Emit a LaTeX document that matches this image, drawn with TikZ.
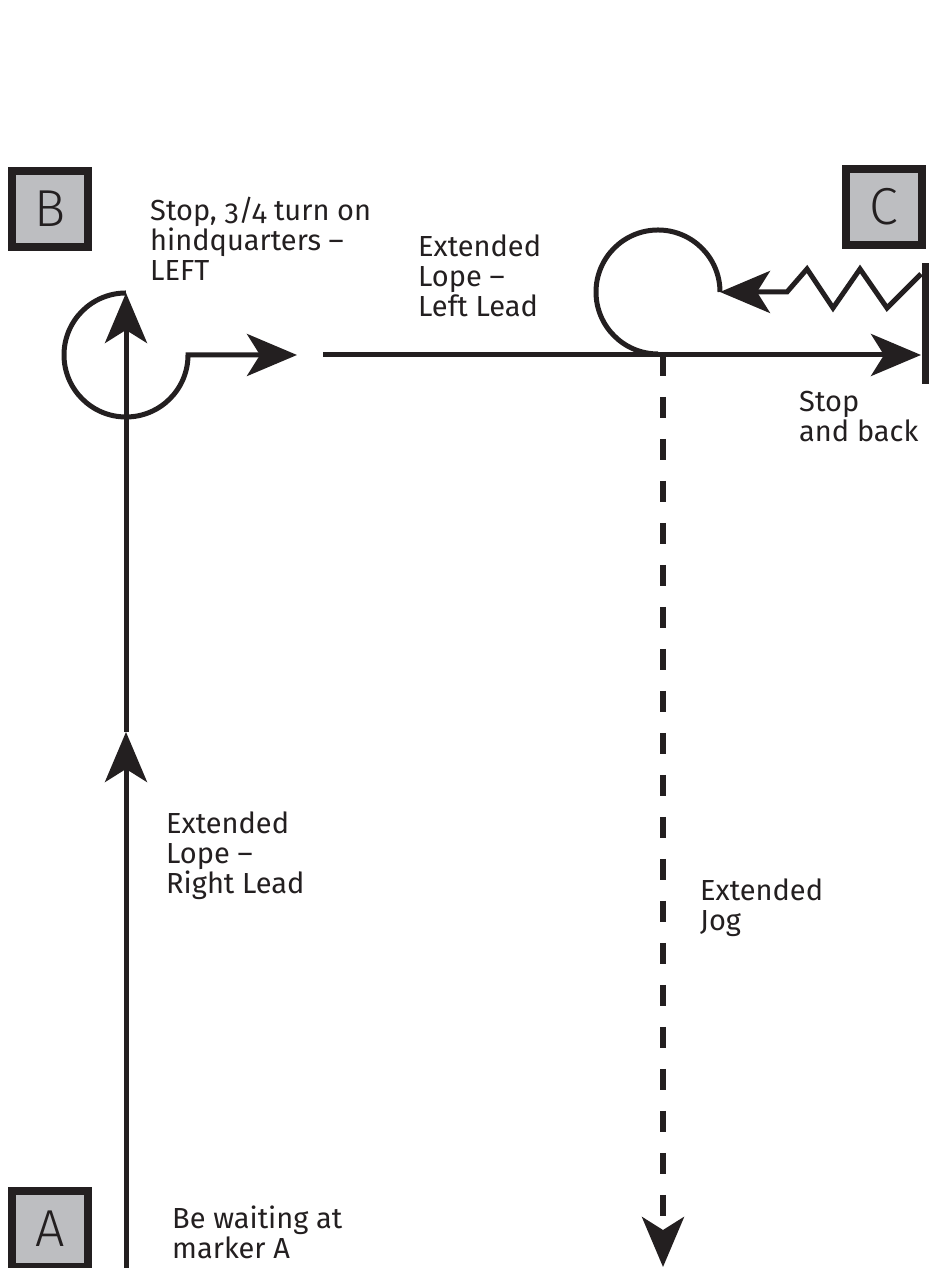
\documentclass[tikz,border=0pt]{standalone}
\usepackage{fontspec}
\setmainfont{Fira Sans}[Numbers=OldStyle]
\newfontfamily\markerfont{Fira Sans Light}
\usetikzlibrary{arrows.meta}
\definecolor{inkblack}{RGB}{35,31,32}
\definecolor{markergray}{RGB}{189,190,193}
\tikzset{
  markerbox/.style={rectangle,draw=inkblack,fill=markergray,line width=8pt,
    minimum size=76pt,inner sep=0pt,text=inkblack,font=\markerfont\fontsize{52}{52}\selectfont},
  note/.style={anchor=north west,inner sep=0pt,align=left,text=inkblack,
    font=\fontsize{29}{30}\selectfont},
  bigtip/.tip={Stealth[length=50pt,width=42pt,inset=13pt]},
  trail/.style={draw=inkblack,line width=5pt},
  jogline/.style={draw=inkblack,line width=5.5pt,dash pattern=on 21pt off 21pt},
  stopbar/.style={draw=inkblack,line width=7pt}
}
\begin{document}
\begin{tikzpicture}[x=1pt,y=1pt]
  \useasboundingbox (0,0) rectangle (931,1268);

  % markers
  \node[markerbox] (mA) at (50,39) {A};
  \node[markerbox] (mB) at (50,1059) {B};
  \node[markerbox] (mC) at (884,1061) {C};

  \coordinate (startA) at (126,0);
  \coordinate (midA) at (126,536);
  \coordinate (turnB) at (126,975);
  \coordinate (gapL) at (297,913);
  \coordinate (gapR) at (323,913);
  \coordinate (stopC) at (921,913);
  \coordinate (loopC) at (658,914);
  \coordinate (backC) at (720,976);
  \coordinate (jogS) at (663,913);
  \coordinate (jogE) at (663,1);

  % A to B
  \draw[trail,-bigtip] (startA) -- (midA);
  \draw[trail,-bigtip] (midA) -- (turnB);
  % turn on hindquarters
  \draw[trail,-bigtip] (turnB) arc[start angle=90,end angle=360,radius=62] -- (gapL);
  % B to C
  \draw[trail,-bigtip] (gapR) -- (stopC);
  \draw[stopbar] (925,884) -- (925,1005);
  % back up and loop
  \draw[trail,-bigtip] (921,994) -- (887,960) -- (860,999) -- (833,960) -- (807,999)
    -- (787,976) -- (backC);
  \draw[trail] (loopC) arc[start angle=-90,end angle=-360,radius=62];
  % jog down
  \draw[jogline,-bigtip] (jogS) -- (jogE);

  % labels
  \node[note] (tB) at (150,1071) {Stop, 3/4 turn on\\hindquarters –\\LEFT};
  \node[note] (tBC) at (418,1033) {Extended\\Lope –\\Left Lead};
  \node[note] (tC) at (799,877) {Stop\\and back};
  \node[note] (tAB) at (166,456) {Extended\\Lope –\\Right Lead};
  \node[note] (tJog) at (700,389) {Extended\\Jog};
  \node[note] (tA) at (172,62) {Be waiting at\\marker A};
\end{tikzpicture}
\end{document}
